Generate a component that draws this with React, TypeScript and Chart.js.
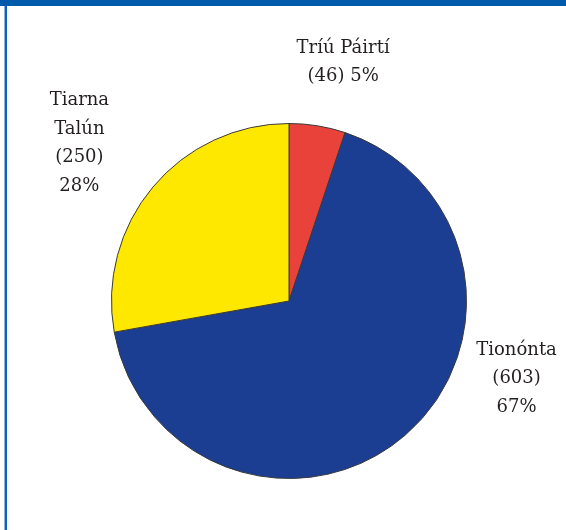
import React, { useEffect, useRef } from "react";
import { Chart, registerables } from "chart.js";

Chart.register(...registerables);

const categories = ["Tríú Páirtí", "Tionónta", "Tiarna Talún"];
const counts = [46, 603, 250];
const percents = ["5%", "67%", "28%"];
const colors = ["#E8423A", "#1B3E93", "#FFE800"];

// Label text lines per slice
const labelLines = [
  ["Tríú Páirtí", "(46) 5%"],
  ["Tionónta", "(603)", "67%"],
  ["Tiarna", "Talún", "(250)", "28%"],
];
// Label anchor offsets relative to pie centre, in units of the outer radius
const labelOffsets = [
  [0.305, -1.424],
  [1.282, 0.277],
  [-1.181, -1.13],
];

const labelPlugin = {
  id: "sliceLabels",
  afterDraw(chart: any) {
    const meta = chart.getDatasetMeta(0);
    const ctx = chart.ctx;
    ctx.save();
    ctx.fillStyle = "#231F20";
    ctx.font = '18px "DejaVu Serif"';
    ctx.textAlign = "center";
    ctx.textBaseline = "middle";
    meta.data.forEach((arc: any, i: number) => {
      const r = arc.outerRadius;
      const x0 = arc.x + labelOffsets[i][0] * r;
      const y0 = arc.y + labelOffsets[i][1] * r;
      labelLines[i].forEach((line, j) => {
        ctx.fillText(line, x0, y0 + j * 28.5);
      });
    });
    ctx.restore();
  },
};

export default function App() {
  const ref = useRef<HTMLCanvasElement>(null);
  useEffect(() => {
    const chart = new Chart(ref.current!, {
      type: "pie",
      data: {
        labels: categories.map((c, i) => `${c} (${counts[i]}) ${percents[i]}`),
        datasets: [
          {
            data: counts,
            backgroundColor: colors,
            borderColor: "#3a3a3a",
            borderWidth: 1,
            hoverOffset: 0,
          },
        ],
      },
      options: {
        responsive: false,
        animation: false,
        events: [],
        layout: { padding: { left: 111, right: 99, top: 123, bottom: 51 } },
        plugins: {
          legend: { display: false },
          tooltip: { enabled: false },
        },
      },
      plugins: [labelPlugin],
    });
    return () => chart.destroy();
  }, []);

  return (
    <div
      style={{
        position: "fixed",
        left: 0,
        top: 0,
        width: 566,
        height: 530,
        background: "#fff",
        overflow: "hidden",
      }}
    >
      <canvas ref={ref} width={566} height={530} style={{ position: "absolute", left: 0, top: 0 }} />
      <div style={{ position: "absolute", left: 0, top: 0, width: 566, height: 6, background: "#005BAA" }} />
      <div style={{ position: "absolute", left: 4, top: 6, width: 1, height: 524, background: "#8DB4DD" }} />
      <div style={{ position: "absolute", left: 5, top: 6, width: 2, height: 524, background: "#0A64BE" }} />
    </div>
  );
}
